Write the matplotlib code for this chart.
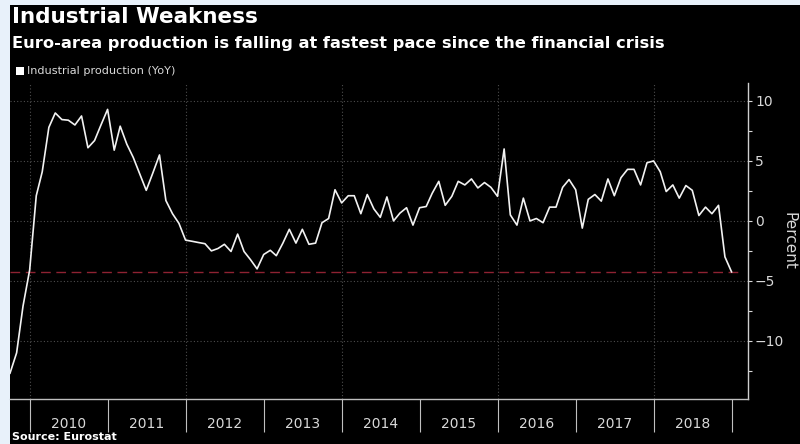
import matplotlib
matplotlib.use("Agg")
import matplotlib.pyplot as plt
import pandas as pd
import numpy as np
from matplotlib.patches import Rectangle

# ---- data (monthly, plotted at month end) ----
start_month = "2009-09"
end_month = "2018-12"
ip_yoy = [
    -12.7, -11.0, -7.1, -4.1,
    2.1, 4.1, 7.8, 9.0, 8.45, 8.4, 8.0, 8.75, 6.1, 6.7, 8.0, 9.3,
    5.9, 7.9, 6.4, 5.3, 3.9, 2.55, 4.0, 5.5, 1.7, 0.6, -0.2, -1.6,
    -1.7, -1.8, -1.9, -2.5, -2.3, -1.95, -2.55, -1.1, -2.55, -3.25, -4.0, -2.8,
    -2.45, -2.9, -1.85, -0.7, -1.85, -0.7, -1.95, -1.85, -0.15, 0.2, 2.6, 1.5,
    2.1, 2.1, 0.6, 2.2, 1.0, 0.3, 2.0, 0.0, 0.65, 1.1, -0.35, 1.1,
    1.2, 2.3, 3.3, 1.3, 2.05, 3.3, 3.0, 3.5, 2.75, 3.2, 2.8, 2.05,
    6.0, 0.5, -0.35, 1.9, 0.0, 0.2, -0.15, 1.15, 1.15, 2.8, 3.45, 2.6,
    -0.6, 1.8, 2.2, 1.65, 3.5, 2.1, 3.6, 4.3, 4.3, 3.0, 4.85, 5.0,
    4.1, 2.45, 3.0, 1.9, 2.95, 2.55, 0.45, 1.15, 0.6, 1.3, -3.0, -4.25,
]
year_labels = [str(y) for y in range(2010, 2019)]
y_ticks = [-10, -5, 0, 5, 10]
title = "Industrial Weakness"
subtitle = "Euro-area production is falling at fastest pace since the financial crisis"
legend_label = "Industrial production (YoY)"
y_label = "Percent"
source = "Source: Eurostat"

dates = pd.date_range(start=start_month, end=end_month, freq="MS") + pd.offsets.MonthEnd(0)
series = pd.Series(ip_yoy, index=dates)

BG = "#000000"
TXT = "#d9d9d9"
GRID = "#4d4d4d"

fig = plt.figure(figsize=(8, 4.44), dpi=100)
fig.patch.set_facecolor("#e8f1fa")
fig.patches.append(Rectangle((10 / 800, 0), 1, 1 - 5 / 444, transform=fig.transFigure,
                             facecolor=BG, edgecolor="none", zorder=-10))

ax = fig.add_axes([10 / 800, 45 / 444, 738 / 800, 316 / 444])
ax.set_facecolor(BG)
ax.set_zorder(2)

ax.plot(series.index, series.values, color="#f2f2f2", lw=1.2, zorder=3)
ax.axhline(series.values[-1], xmin=0, xmax=0.992, color="#8e2232", lw=1.0,
           dashes=(7, 4), zorder=2)

ax.set_xlim(pd.Timestamp("2009-09-30"), pd.Timestamp("2019-03-18"))
ax.set_ylim(-14.85, 11.5)

# y axis on right
ax.yaxis.tick_right()
ax.set_yticks(y_ticks)
ax.set_yticks(np.arange(-12.5, 11.5, 2.5), minor=True)
ax.tick_params(axis="y", which="major", direction="out", length=3, width=0.8,
               colors=TXT, labelsize=10, pad=2)
ax.tick_params(axis="y", which="minor", direction="out", length=3, width=0.8, colors=TXT)

# x axis: long ticks at year starts, labels at mid-year
years = list(range(2010, 2020))
ax.set_xticks([pd.Timestamp(f"{y}-01-01") for y in years])
ax.set_xticklabels([])
ax.set_xticks([pd.Timestamp(f"{y}-07-02") for y in range(2010, 2019)], minor=True)
ax.set_xticklabels(year_labels, minor=True)
ax.tick_params(axis="x", which="major", direction="out", length=24, width=0.8, colors="#bfbfbf")
ax.tick_params(axis="x", which="minor", length=0, labelsize=10, labelcolor=TXT, pad=13)

# grid
for v in y_ticks:
    ax.axhline(v, color=GRID, lw=0.8, ls=(0, (1, 2)), zorder=1)
for y in range(2010, 2019, 2):
    ax.axvline(pd.Timestamp(f"{y}-01-01"), color=GRID, lw=0.8, ls=(0, (1, 2)), zorder=1)

for side in ["left", "top"]:
    ax.spines[side].set_visible(False)
ax.spines["right"].set_color("#cfcfcf")
ax.spines["bottom"].set_color("#bfbfbf")
ax.spines["right"].set_linewidth(1.0)
ax.spines["bottom"].set_linewidth(1.0)

# texts
fig.text(12 / 800, 1 - 7 / 444, title, color="white", fontsize=15.5, fontweight="bold",
         va="top", ha="left")
fig.text(12 / 800, 1 - 36 / 444, subtitle, color="white", fontsize=11.7, fontweight="bold",
         va="top", ha="left")
fig.patches.append(Rectangle((16 / 800, 1 - 75.5 / 444), 8 / 800, 8 / 444, transform=fig.transFigure,
                             facecolor="white", edgecolor="none"))
fig.text(27 / 800, 1 - 71.5 / 444, legend_label, color=TXT, fontsize=8.1, va="center", ha="left")
fig.text(789 / 800, 1 - 241 / 444, y_label, color=TXT, fontsize=11, rotation=270,
         va="center", ha="center")
fig.text(12 / 800, 1 - 432 / 444, source, color="white", fontsize=8, fontweight="bold",
         va="top", ha="left")

fig.savefig("out.png", dpi=100, facecolor=fig.get_facecolor())
